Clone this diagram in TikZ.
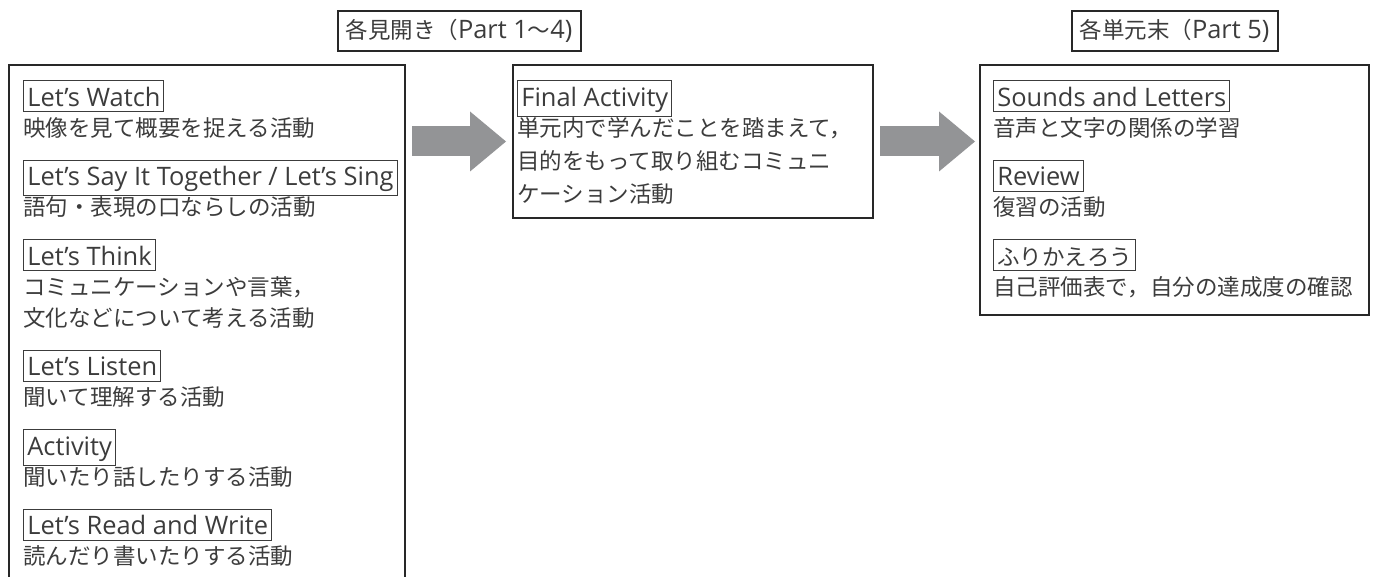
\documentclass[tikz,border=0pt]{standalone}
\usepackage{fontspec}
\setmainfont{Noto Sans CJK JP}
\newfontfamily\latinfont[Scale=1.13]{Open Sans}
\usetikzlibrary{positioning,arrows.meta}
\definecolor{inkgray}{RGB}{40,40,40}
\definecolor{textgray}{RGB}{60,60,60}
\definecolor{arrowgray}{RGB}{147,148,150}
\newcommand{\listfont}{\fontsize{11.25pt}{16pt}\selectfont}
\newcommand{\tagbox}[1]{{\setlength{\fboxsep}{1.5pt}\setlength{\fboxrule}{0.5pt}\fbox{\rule[-1pt]{0pt}{12pt}#1}}}
\newcommand{\entag}[1]{\tagbox{\latinfont #1}}
\tikzset{
  panel/.style={draw=inkgray, line width=1pt, inner sep=0pt, outer sep=0pt, anchor=north west},
  header/.style={draw=inkgray, line width=1pt, minimum height=20pt, inner xsep=4pt, inner ysep=0pt, text=textgray, font=\listfont},
  list/.style={anchor=north west, inner sep=0pt, text=textgray, font=\listfont},
  flow/.style={arrowgray, line width=15pt, shorten <=3.5pt, -{Triangle[length=18pt, width=30pt, line width=0pt]}}
}

\begin{document}
\begin{tikzpicture}
  \useasboundingbox (0,0) rectangle (687.5pt,-288.5pt);

  \node[panel, draw=none, minimum width=198pt, minimum height=256pt] (lbox) at (4.5pt,-32.5pt) {};
  \draw[inkgray, line width=1pt] (lbox.south west) -- (lbox.north west) -- (lbox.north east) -- (lbox.south east);
  \node[panel, minimum width=180pt, minimum height=76.5pt, right=54pt of lbox.north east, anchor=north west] (mbox) {};
  \node[panel, minimum width=194.5pt, minimum height=125pt, right=53.5pt of mbox.north east, anchor=north west] (rbox) {};

  \node[header, above=6.5pt of lbox.north east, xshift=27pt] (lhead) {各見開き（{\latinfont Part 1}〜{\latinfont 4)}};
  \node[header, above=6.5pt of rbox] (rhead) {各単元末（{\latinfont Part 5)}};

  \node[list] (ltext) at ([shift={(7pt,-7.5pt)}]lbox.north west) {
    \begin{minipage}[t]{188pt}\lineskiplimit=-\maxdimen
      \entag{Let’s Watch}\\[-1pt]
      映像を見て概要を捉える活動\\[8.75pt]
      \entag{Let’s Say It Together / Let’s Sing}\\[-1pt]
      語句・表現の口ならしの活動\\[8.75pt]
      \entag{Let’s Think}\\[-1pt]
      コミュニケーションや言葉，\\[-0.5pt]
      文化などについて考える活動\\[8.75pt]
      \entag{Let’s Listen}\\[-1pt]
      聞いて理解する活動\\[8.75pt]
      \entag{Activity}\\[-1pt]
      聞いたり話したりする活動\\[8.75pt]
      \entag{Let’s Read and Write}\\[-1pt]
      読んだり書いたりする活動
    \end{minipage}
  };
  \node[list] (mtext) at ([shift={(2pt,-7.5pt)}]mbox.north west) {
    \begin{minipage}[t]{176pt}\lineskiplimit=-\maxdimen
      \entag{Final Activity}\\[-1pt]
      単元内で学んだことを踏まえて，\\[0.5pt]
      目的をもって取り組むコミュニ\\[0.5pt]
      ケーション活動
    \end{minipage}
  };
  \node[list] (rtext) at ([shift={(6.5pt,-7.5pt)}]rbox.north west) {
    \begin{minipage}[t]{185pt}\lineskiplimit=-\maxdimen
      \entag{Sounds and Letters}\\[-1pt]
      音声と文字の関係の学習\\[8.75pt]
      \entag{Review}\\[-1pt]
      復習の活動\\[8.75pt]
      \tagbox{ふりかえろう}\\[-1pt]
      自己評価表で，自分の達成度の確認
    \end{minipage}
  };

  \draw[flow, shorten >=3.5pt] (lbox.east |- mbox.west) -- (mbox.west);
  \draw[flow, shorten >=2.5pt] (mbox.east) -- (rbox.west |- mbox.east);
\end{tikzpicture}
\end{document}
